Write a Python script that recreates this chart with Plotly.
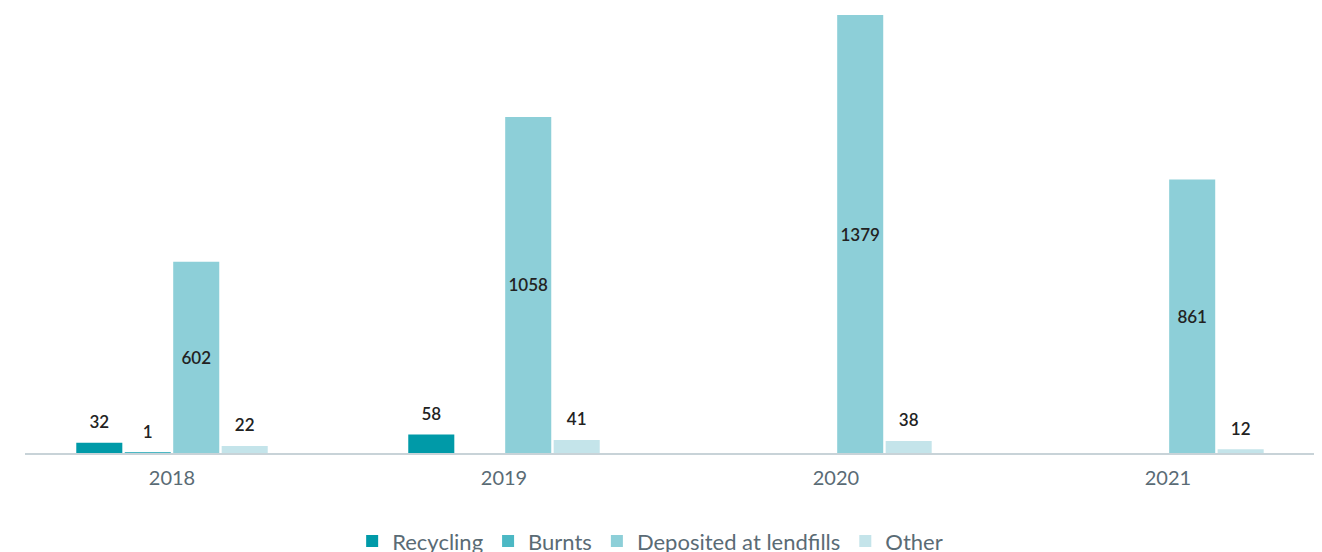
import plotly.graph_objects as go

years = ["2018", "2019", "2020", "2021"]
series_names = ["Recycling", "Burnts", "Deposited at lendfills", "Other"]
recycling = [32, 58, None, None]
burnts = [1, None, None, None]
lendfills = [602, 1058, 1379, 861]
other = [22, 41, 38, 12]

colors = ["#009aa8", "#4cb8c4", "#8dcfd8", "#c4e4ea"]
values = [recycling, burnts, lendfills, other]
LABEL_FONT = dict(family="Lato", size=17, color="#222222", weight=600)

fig = go.Figure()
for name, vals, col in zip(series_names, values, colors):
    inside_txt = [str(v) if (v is not None and v > 200) else "" for v in vals]
    fig.add_trace(go.Bar(
        x=years, y=vals, name=name, marker_color=col, marker_line_width=0,
        offsetgroup=name,
        text=inside_txt, textposition="inside", insidetextanchor="middle",
        textfont=LABEL_FONT,
    ))
for name, vals in zip(series_names, values):
    small_y = [v if (v is not None and v <= 200) else None for v in vals]
    fig.add_trace(go.Scatter(
        x=years, y=small_y, mode="markers+text", offsetgroup=name,
        text=[("" if v is None else str(v)) for v in small_y],
        textposition="top center", textfont=LABEL_FONT,
        marker=dict(size=15, opacity=0), showlegend=False, hoverinfo="skip",
        cliponaxis=False,
    ))

fig.update_layout(
    width=1322, height=552,
    margin=dict(l=17, r=8, t=7, b=107, autoexpand=False),
    paper_bgcolor="white", plot_bgcolor="white",
    barmode="group", bargap=0.416, bargroupgap=0.05,
    scattermode="group", scattergap=0.416,
    showlegend=True,
    legend=dict(orientation="h", x=0.482, xanchor="center", yref="container",
                y=0.034, yanchor="middle",
                font=dict(family="Lato", size=22, color="#5a6b75"),
                traceorder="normal"),
    xaxis=dict(range=[-0.4428, 3.464], showgrid=False, showline=True, linecolor="#c8d3d8",
               linewidth=1.5, ticks="", tickfont=dict(family="Lato", size=20, color="#5a6b75"),
               ticklabelstandoff=6, zeroline=False, automargin=False),
    yaxis=dict(range=[0, 1379], visible=False, showgrid=False, zeroline=False),
)

fig.write_html("out.html")
